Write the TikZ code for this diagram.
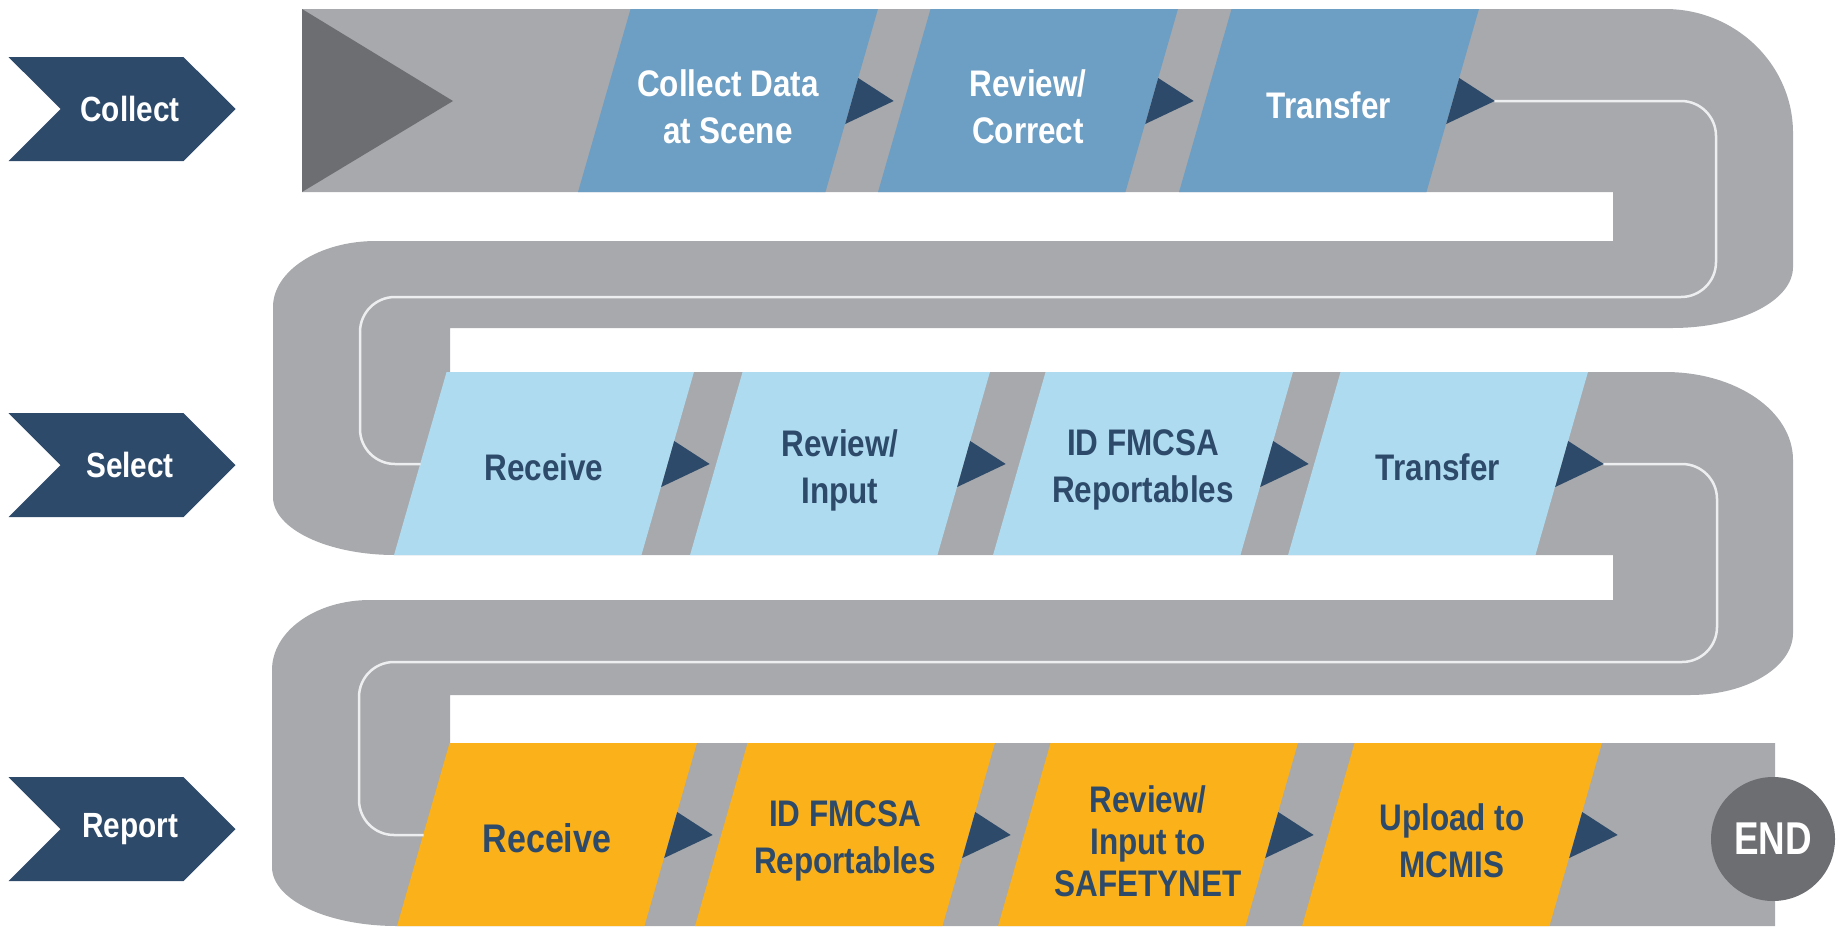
\documentclass[tikz,border=0pt]{standalone}
\usepackage{fontspec}
\newfontfamily\stepfont{Liberation Sans}[FakeStretch=0.85]
\newfontfamily\endfont{Liberation Sans}[FakeStretch=0.8]
\usetikzlibrary{shapes.symbols, backgrounds}
\definecolor{trackgray}{HTML}{A7A9AC}
\definecolor{startgray}{HTML}{6D6E71}
\definecolor{navy}{HTML}{2E4A6A}
\definecolor{collectblue}{HTML}{6D9EC4}
\definecolor{selectblue}{HTML}{AEDBF0}
\definecolor{reportgold}{HTML}{FBB119}
\definecolor{linewhite}{HTML}{EDEEEF}
\tikzset{
    %Define style for the stage chevrons
    stage/.style={
           shape=signal,
           signal from=west,
           signal to=east,
           signal pointer angle=90,
           fill=navy,
           text=white,
           minimum width=227pt,
           minimum height=104pt,
           inner sep=0pt,
           execute at begin node=\hspace*{16pt},
           font=\stepfont\bfseries\fontsize{35}{40}\selectfont},
    %Define style for the step texts (the slanted boxes are filled behind them)
    steptext/.style={
           rectangle,
           minimum width=194.5pt,
           inner sep=0pt,
           align=center,
           font=\stepfont\bfseries\fontsize{37}{47}\selectfont},
    collectstep/.style={steptext, text=white},
    selectstep/.style={steptext, text=navy},
    reportstep/.style={steptext, text=navy},
    %end marker
    endmark/.style={
           circle,
           fill=startgray,
           text=white,
           minimum size=124pt,
           inner sep=0pt,
           font=\endfont\bfseries\fontsize{46}{46}\selectfont},
    % Define triangle and line style
    steptip/.style={fill=navy},
    trackline/.style={
           draw=linewhite,
           line width=2.5pt,
           rounded corners=35pt}
}

\begin{document}
\begin{tikzpicture}[x=1pt, y=-1pt]
\useasboundingbox (0,0) rectangle (1841,926);

\coordinate (row1top) at (0,9);
\coordinate (row1mid) at (0,101);
\coordinate (row1bot) at (0,192);
\coordinate (row2top) at (0,372);
\coordinate (row2mid) at (0,464);
\coordinate (row2bot) at (0,555);
\coordinate (row3top) at (0,743);
\coordinate (row3mid) at (0,835);
\coordinate (row3bot) at (0,926);

\node[stage] (collect) at (122,109) {Collect};
\node[stage] (select) at (122,465) {Select};
\node[stage] (report) at (122,829) {Report};

\node[collectstep] (c1) at (728,107) {Collect Data\\at Scene};
\node[collectstep] (c2) at (1028,107) {Review/\\Correct};
\node[collectstep] (c3) at (1329,105) {Transfer};

\node[selectstep] (s1) at (544,467) {Receive};
\node[selectstep] (s2) at (840,470) {Review/\\Input};
\node[selectstep] (s3) at (1143,470) {ID FMCSA\\Reportables};
\node[selectstep] (s4) at (1438,467) {Transfer};

\node[reportstep, font=\stepfont\bfseries\fontsize{40}{47}\selectfont] (r1) at (547,838) {Receive};
\node[reportstep] (r2) at (845,841) {ID FMCSA\\Reportables};
\node[reportstep, font=\stepfont\bfseries\fontsize{37}{42}\selectfont] (r3) at (1148,841) {Review/\\Input to\\SAFETYNET};
\node[reportstep] (r4) at (1452,841) {Upload to\\MCMIS};

\node[endmark] (end) at (1773,839) {END};

\begin{scope}[on background layer]
% the road
\fill[trackgray] (302,9) -- (1665,9) .. controls (1736,9) and (1793,65) .. (1793,133)
 -- (1793,267) .. controls (1793,301) and (1739,328) .. (1672,328)
 -- (450,328) -- (450,372) -- (1665,372) .. controls (1736,372) and (1793,411) .. (1793,460)
 -- (1793,633) .. controls (1793,667) and (1747,695) .. (1690,695)
 -- (450,695) -- (450,743) -- (1775,743) -- (1775,926)
 -- (397,926) .. controls (328,926) and (272,900) .. (272,867)
 -- (272,670) .. controls (272,631) and (316,600) .. (370,600)
 -- (1613,600) -- (1613,555)
 -- (395,555) .. controls (328,555) and (273,529) .. (273,497)
 -- (273,307) .. controls (273,271) and (319,241) .. (376,241)
 -- (1613,241) -- (1613,192) -- (302,192) -- cycle;
\fill[startgray] (302,9) -- (453,101) -- (302,192) -- cycle;

% slanted boxes
\fill[collectblue] ([xshift=-52.5pt]c1.west |- row1bot) -- (c1.east |- row1bot) -- ([xshift=52.5pt]c1.east |- row1top) -- (c1.west |- row1top) -- cycle;
\fill[collectblue] ([xshift=-52.5pt]c2.west |- row1bot) -- (c2.east |- row1bot) -- ([xshift=52.5pt]c2.east |- row1top) -- (c2.west |- row1top) -- cycle;
\fill[collectblue] ([xshift=-52.5pt]c3.west |- row1bot) -- (c3.east |- row1bot) -- ([xshift=52.5pt]c3.east |- row1top) -- (c3.west |- row1top) -- cycle;
\fill[selectblue] ([xshift=-52.5pt]s1.west |- row2bot) -- (s1.east |- row2bot) -- ([xshift=52.5pt]s1.east |- row2top) -- (s1.west |- row2top) -- cycle;
\fill[selectblue] ([xshift=-52.5pt]s2.west |- row2bot) -- (s2.east |- row2bot) -- ([xshift=52.5pt]s2.east |- row2top) -- (s2.west |- row2top) -- cycle;
\fill[selectblue] ([xshift=-52.5pt]s3.west |- row2bot) -- (s3.east |- row2bot) -- ([xshift=52.5pt]s3.east |- row2top) -- (s3.west |- row2top) -- cycle;
\fill[selectblue] ([xshift=-52.5pt]s4.west |- row2bot) -- (s4.east |- row2bot) -- ([xshift=52.5pt]s4.east |- row2top) -- (s4.west |- row2top) -- cycle;
\fill[reportgold] ([xshift=-52.5pt]r1.west |- row3bot) -- (r1.east |- row3bot) -- ([xshift=52.5pt]r1.east |- row3top) -- (r1.west |- row3top) -- cycle;
\fill[reportgold] ([xshift=-52.5pt]r2.west |- row3bot) -- (r2.east |- row3bot) -- ([xshift=52.5pt]r2.east |- row3top) -- (r2.west |- row3top) -- cycle;
\fill[reportgold] ([xshift=-52.5pt]r3.west |- row3bot) -- (r3.east |- row3bot) -- ([xshift=52.5pt]r3.east |- row3top) -- (r3.west |- row3top) -- cycle;
\fill[reportgold] ([xshift=-52.5pt]r4.west |- row3bot) -- (r4.east |- row3bot) -- ([xshift=52.5pt]r4.east |- row3top) -- (r4.west |- row3top) -- cycle;
\end{scope}

\draw[trackline] ([xshift=68pt]c3.east |- row1mid) -| (1716,297) -| (360,464) -- ([xshift=-26pt]s1.west |- row2mid);
\draw[trackline] ([xshift=68pt]s4.east |- row2mid) -| (1717,662) -| (359,835) -- ([xshift=-26pt]r1.west |- row3mid);

\fill[steptip] ([shift={(32.75,-23)}]c1.east |- row1mid) -- ([shift={(68.25,0)}]c1.east |- row1mid) -- ([shift={(19.75,23)}]c1.east |- row1mid) -- cycle;
\fill[steptip] ([shift={(32.75,-23)}]c2.east |- row1mid) -- ([shift={(68.25,0)}]c2.east |- row1mid) -- ([shift={(19.75,23)}]c2.east |- row1mid) -- cycle;
\fill[steptip] ([shift={(32.75,-23)}]c3.east |- row1mid) -- ([shift={(68.25,0)}]c3.east |- row1mid) -- ([shift={(19.75,23)}]c3.east |- row1mid) -- cycle;
\fill[steptip] ([shift={(32.75,-23)}]s1.east |- row2mid) -- ([shift={(68.25,0)}]s1.east |- row2mid) -- ([shift={(19.75,23)}]s1.east |- row2mid) -- cycle;
\fill[steptip] ([shift={(32.75,-23)}]s2.east |- row2mid) -- ([shift={(68.25,0)}]s2.east |- row2mid) -- ([shift={(19.75,23)}]s2.east |- row2mid) -- cycle;
\fill[steptip] ([shift={(32.75,-23)}]s3.east |- row2mid) -- ([shift={(68.25,0)}]s3.east |- row2mid) -- ([shift={(19.75,23)}]s3.east |- row2mid) -- cycle;
\fill[steptip] ([shift={(32.75,-23)}]s4.east |- row2mid) -- ([shift={(68.25,0)}]s4.east |- row2mid) -- ([shift={(19.75,23)}]s4.east |- row2mid) -- cycle;
\fill[steptip] ([shift={(32.75,-23)}]r1.east |- row3mid) -- ([shift={(68.25,0)}]r1.east |- row3mid) -- ([shift={(19.75,23)}]r1.east |- row3mid) -- cycle;
\fill[steptip] ([shift={(32.75,-23)}]r2.east |- row3mid) -- ([shift={(68.25,0)}]r2.east |- row3mid) -- ([shift={(19.75,23)}]r2.east |- row3mid) -- cycle;
\fill[steptip] ([shift={(32.75,-23)}]r3.east |- row3mid) -- ([shift={(68.25,0)}]r3.east |- row3mid) -- ([shift={(19.75,23)}]r3.east |- row3mid) -- cycle;
\fill[steptip] ([shift={(32.75,-23)}]r4.east |- row3mid) -- ([shift={(68.25,0)}]r4.east |- row3mid) -- ([shift={(19.75,23)}]r4.east |- row3mid) -- cycle;

\end{tikzpicture}
\end{document}
